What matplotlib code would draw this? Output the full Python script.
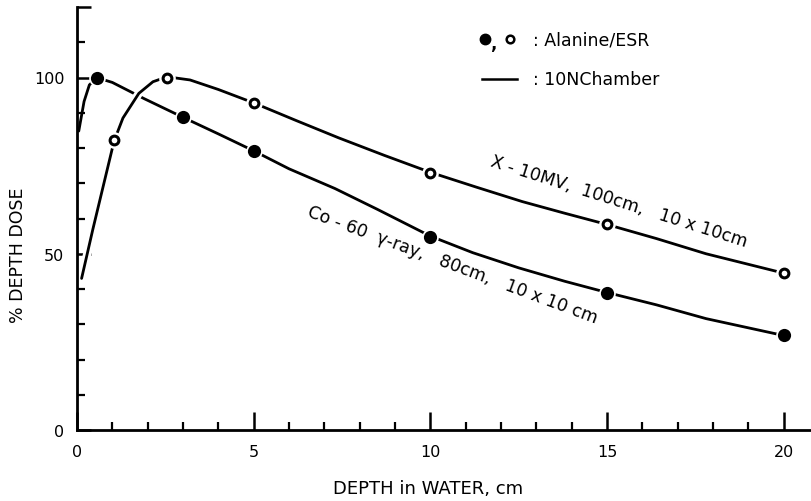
import matplotlib
matplotlib.use("Agg")
import matplotlib.pyplot as plt
import matplotlib.patheffects as pe

# 10N chamber curves
co_depth = [0.05, 0.2, 0.35, 0.5, 0.58, 1.0, 1.9, 3.0, 4.0, 5.0, 6.0, 7.3, 8.5,
            10.0, 11.2, 12.5, 13.8, 15.0, 16.4, 17.8, 20.0]
co_dose = [84.8, 93.2, 97.9, 99.3, 99.9, 98.6, 94.0, 88.7, 84.0, 79.2, 74.1, 68.5,
           62.6, 55.0, 50.3, 46.0, 42.2, 39.0, 35.5, 31.6, 26.8]

xr_depth = [0.13, 0.45, 0.75, 1.05, 1.3, 1.75, 2.15, 2.55, 3.2, 4.0, 5.0, 6.2, 7.4,
            8.7, 10.0, 11.3, 12.6, 13.8, 15.0, 16.4, 17.8, 20.0]
xr_dose = [43.0, 57.0, 69.5, 82.0, 88.5, 95.5, 98.8, 100.2, 99.3, 96.6, 92.8, 87.8,
           82.9, 77.9, 73.1, 68.9, 64.8, 61.5, 58.3, 54.3, 50.0, 44.5]

# alanine/ESR points
co_al_depth = [0.58, 3.0, 5.0, 10.0, 15.0, 20.0]
co_al_dose = [100.0, 88.7, 79.2, 54.8, 39.0, 27.0]
xr_al_depth = [1.05, 2.55, 5.0, 10.0, 15.0, 20.0]
xr_al_dose = [82.4, 100.0, 92.8, 73.0, 58.3, 44.4]

x_major = [0, 5, 10, 15, 20]
y_major = [0, 50, 100, 120]
y_labels = ["0", "50", "100", ""]

fig = plt.figure(figsize=(8.12, 5.02), dpi=100)
ax = fig.add_axes([77/812, 71/502, 735/812, 423/502])

lw = 2.0
ax.plot(co_depth, co_dose, color="black", lw=lw, solid_capstyle="round", zorder=2)
ax.plot(xr_depth, xr_dose, color="black", lw=lw, solid_capstyle="round", zorder=2.5,
        path_effects=[pe.Stroke(linewidth=6, foreground="white"), pe.Normal()])

# white gap round each marker
ax.plot(co_al_depth, co_al_dose, "o", ms=12, color="white", mec="none", zorder=3)
ax.plot(xr_al_depth, xr_al_dose, "o", ms=12, color="white", mec="none", zorder=3)
ax.plot(co_al_depth, co_al_dose, "o", ms=9.5, color="black", mec="none", zorder=4)
ax.plot(xr_al_depth, xr_al_dose, "o", ms=6.3, mfc="white", mec="black", mew=2.2, zorder=4)

ax.set_xlim(0, 20.8)
ax.set_ylim(0, 120)
for s in ["top", "right"]:
    ax.spines[s].set_visible(False)
for s in ["left", "bottom"]:
    ax.spines[s].set_linewidth(2.0)

ax.set_xticks(x_major)
ax.set_xticks(range(0, 21), minor=True)
ax.set_yticks(y_major)
ax.set_yticklabels(y_labels)
ax.set_yticks(range(0, 121, 10), minor=True)
ax.tick_params(which="major", direction="in", width=1.8, length=10, labelsize=11.5)
ax.tick_params(which="minor", direction="in", width=1.6, length=6)
ax.tick_params(axis="x", which="major", length=13, pad=10)
ax.tick_params(axis="y", which="major", pad=9)

ax.set_xlabel("DEPTH in WATER, cm", fontsize=13)
ax.xaxis.set_label_coords(0.478, -0.115)
ax.set_ylabel("% DEPTH DOSE", fontsize=12.5)
ax.yaxis.set_label_coords(-0.068, 0.416)

# curve captions
ax.text(15.33, 65.0, "X - 10MV,  100cm,   10 x 10cm", rotation=-17.6,
        rotation_mode="anchor", ha="center", va="center", fontsize=12.5)
ax.text(10.62, 46.9, "Co - 60  \u03b3-ray,   80cm,   10 x 10 cm", rotation=-20.4,
        rotation_mode="anchor", ha="center", va="center", fontsize=12.5)

# key
ax.plot([0.555], [0.924], "o", ms=7.5, color="black", transform=ax.transAxes, clip_on=False)
ax.text(0.567, 0.915, ",", fontsize=12, fontweight="bold", transform=ax.transAxes,
        ha="center", va="center")
ax.plot([0.589], [0.924], "o", ms=5.5, mfc="white", mec="black", mew=1.8,
        transform=ax.transAxes, clip_on=False)
ax.text(0.620, 0.924, ": Alanine/ESR", fontsize=12.5, transform=ax.transAxes,
        ha="left", va="center")
ax.plot([0.551, 0.599], [0.830, 0.830], color="black", lw=1.8, transform=ax.transAxes)
ax.text(0.620, 0.830, ": 10NChamber", fontsize=12.5, transform=ax.transAxes,
        ha="left", va="center")

fig.savefig("out.png", dpi=100)
